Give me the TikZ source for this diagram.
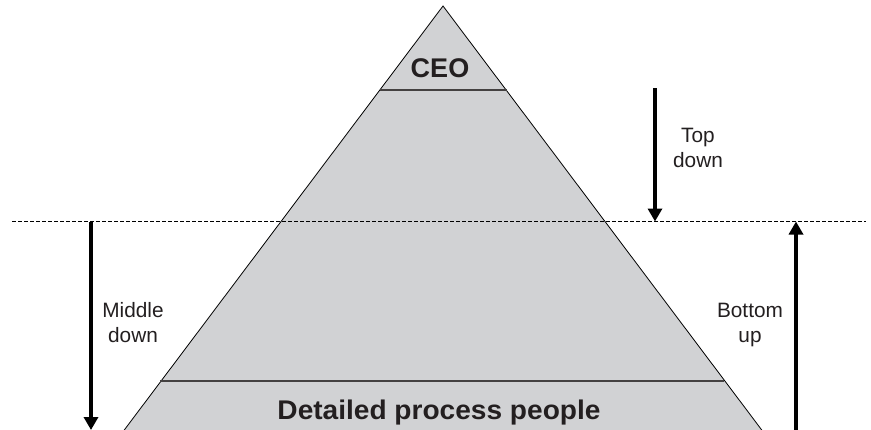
\documentclass[tikz,border=0pt]{standalone}
\usepackage{fontspec}
\setmainfont{Liberation Sans}
\usetikzlibrary{arrows.meta}
\definecolor{pyr}{HTML}{D1D2D4}
\definecolor{ink}{HTML}{231F20}
\tikzset{
  lbl/.style={font=\fontsize{20.8}{25}\selectfont, text=ink, align=center, inner sep=0pt},
  blbl/.style={font=\fontsize{27}{30}\selectfont\bfseries, text=ink, inner sep=0pt, anchor=base},
  bigarrow/.style={line width=4.4pt, -{Triangle[length=13pt,width=14pt]}},
  tier/.style={draw=ink!85, line width=1.3pt},
  guide/.style={draw=black, line width=0.9pt, dash pattern=on 3.5pt off 2.5pt}
}
\begin{document}
\begin{tikzpicture}[x=1pt,y=-1pt]
\useasboundingbox (0,0) rectangle (871,429);
\begin{scope}
\clip (0,0) rectangle (871,429);
% pyramid
\coordinate (apex) at (443,6);
\coordinate (bl) at (119,437);
\coordinate (br) at (767,437);
\filldraw[fill=pyr, draw=black, line width=0.8pt, line join=miter] (apex) -- (bl) -- (br) -- cycle;
\coordinate (c1) at (380,90);
\coordinate (c2) at (507,90);
\draw[tier] (c1) -- (c2);
\coordinate (d1) at (160,381);
\coordinate (d2) at (724,381);
\draw[tier] (d1) -- (d2);
% dashed guide
\coordinate (g1) at (12,221.5);
\coordinate (g2) at (866,221.5);
\draw[guide] (g1) -- (g2);
% arrows
\coordinate (td1) at (655,88);
\coordinate (td2) at (655,221.5);
\draw[bigarrow] (td1) -- (td2);
\coordinate (md1) at (91,221.5);
\coordinate (md2) at (91,430);
\draw[bigarrow] (md1) -- (md2);
\coordinate (bu1) at (796,440);
\coordinate (bu2) at (796,221.5);
\draw[bigarrow] (bu1) -- (bu2);
% texts
\node[blbl] (ceo) at (440,77.3) {CEO};
\node[blbl, xscale=1.04] (det) at (439,419) {Detailed process people};
\node[lbl, anchor=base] (top) at (698,142) {Top};
\node[lbl, anchor=base] (topd) at (698,167) {down};
\node[lbl, anchor=base] (mid) at (133,317) {Middle};
\node[lbl, anchor=base] (midd) at (133,342) {down};
\node[lbl, anchor=base] (bot) at (750,317) {Bottom};
\node[lbl, anchor=base] (botu) at (750,342) {up};
\end{scope}
\end{tikzpicture}
\end{document}
